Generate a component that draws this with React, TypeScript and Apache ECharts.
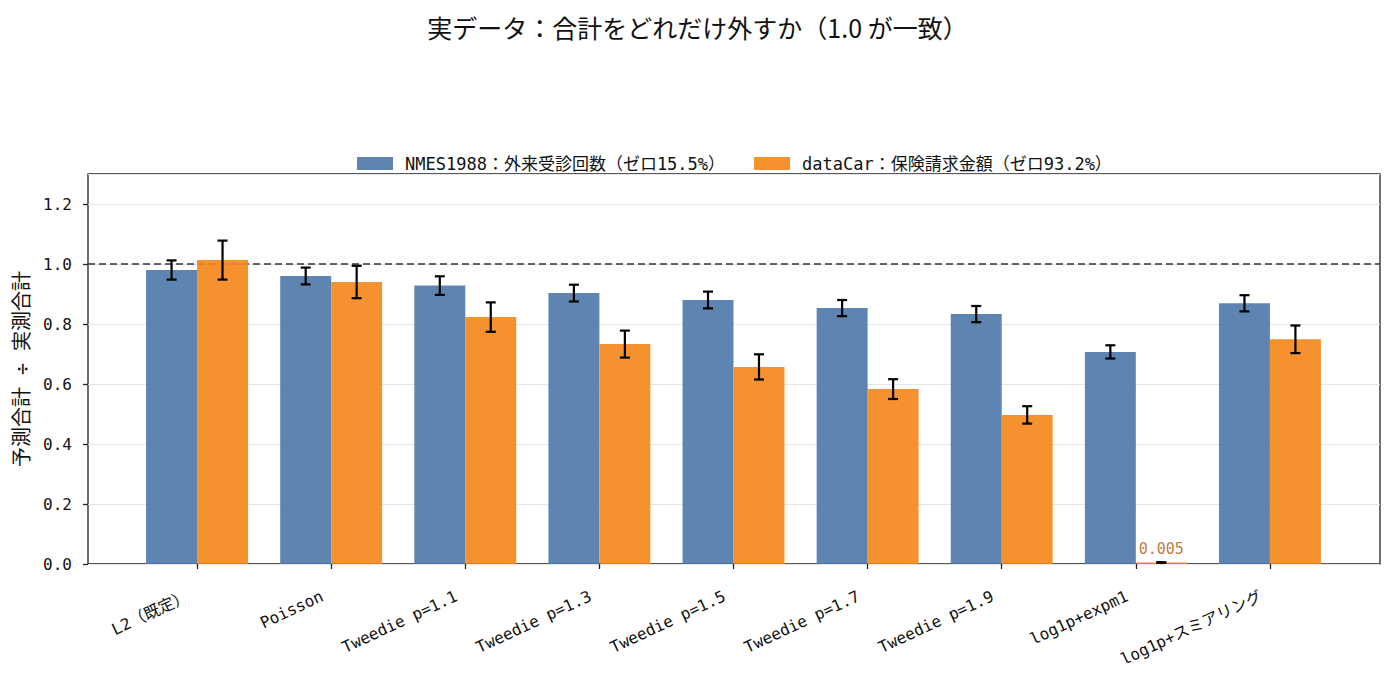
import { useEffect, useRef } from "react";
import * as echarts from "echarts";

const categories = [
  "L2（既定）",
  "Poisson",
  "Tweedie p=1.1",
  "Tweedie p=1.3",
  "Tweedie p=1.5",
  "Tweedie p=1.7",
  "Tweedie p=1.9",
  "log1p+expm1",
  "log1p+スミアリング",
];

const nmesRatio = [0.98, 0.96, 0.928, 0.903, 0.88, 0.853, 0.833, 0.707, 0.869];
const nmesErr = [0.032, 0.028, 0.031, 0.028, 0.028, 0.027, 0.027, 0.022, 0.027];
const carRatio = [1.013, 0.94, 0.823, 0.733, 0.657, 0.583, 0.497, 0.005, 0.749];
const carErr = [0.065, 0.054, 0.049, 0.045, 0.042, 0.033, 0.029, 0.001, 0.046];

const seriesNames = ["NMES1988：外来受診回数（ゼロ15.5%）", "dataCar：保険請求金額（ゼロ93.2%）"];
const yTicks = [0, 0.2, 0.4, 0.6, 0.8, 1.0, 1.2];

const BLUE = "#4c78a8";
const ORANGE = "#f58518";
const MONO = "'DejaVu Sans Mono', 'Noto Sans CJK JP', monospace";
const CJK = "'Noto Sans CJK JP', 'DejaVu Sans', sans-serif";

export default function App() {
  const ref = useRef<HTMLDivElement>(null);

  useEffect(() => {
    document.body.style.margin = "0";
    if (!ref.current) return;
    const chart = echarts.init(ref.current, undefined, { renderer: "svg" });

    const errData = [
      ...nmesRatio.map((v, i) => [i, v - nmesErr[i], v + nmesErr[i], 0]),
      ...carRatio.map((v, i) => [i, v - carErr[i], v + carErr[i], 1]),
    ];

    const option: echarts.EChartsOption = {
      animation: false,
      textStyle: { fontFamily: MONO },
      title: {
        text: "実データ：合計をどれだけ外すか（1.0 が一致）",
        left: "center",
        top: 9,
        textStyle: { fontFamily: CJK, fontSize: 25, fontWeight: "normal", color: "#111" },
      },
      legend: {
        left: 352,
        top: 150,
        itemWidth: 36,
        itemHeight: 13,
        itemGap: 29,
        icon: "rect",
        textStyle: { fontFamily: MONO, fontSize: 17, color: "#111", padding: [0, 0, 0, 7] },
        data: seriesNames,
      },
      grid: [
        { left: 130, right: 58, top: 174, bottom: 123 },
        {
          left: 88,
          right: 15,
          top: 174,
          bottom: 123,
          show: true,
          borderColor: "#222",
          borderWidth: 1.3,
          backgroundColor: "transparent",
        },
      ],
      xAxis: [
        {
          type: "category",
          gridIndex: 0,
          data: categories,
          boundaryGap: true,
          axisLine: { show: false },
          axisTick: { show: true, alignWithLabel: true, length: 5, lineStyle: { color: "#222", width: 1.3 } },
          axisLabel: {
            rotate: 25,
            fontSize: 16,
            color: "#111",
            margin: 27,
            interval: 0,
            padding: [0, 10, 0, 0],
          },
        },
        { type: "value", gridIndex: 1, min: 0, max: 1, show: false },
      ],
      yAxis: [
        { type: "value", gridIndex: 0, min: 0, max: 1.3, show: false },
        {
          type: "value",
          gridIndex: 1,
          min: 0,
          max: 1.3,
          interval: 0.2,
          name: "予測合計 ÷ 実測合計",
          nameLocation: "middle",
          nameGap: 48,
          nameTextStyle: { fontFamily: MONO, fontSize: 20, color: "#111" },
          axisLine: { show: false },
          axisTick: { show: true, length: 5, lineStyle: { color: "#222", width: 1.3 } },
          axisLabel: {
            fontSize: 16,
            color: "#111",
            margin: 16,
            showMaxLabel: false,
            formatter: (v: number) => (yTicks.some((t) => Math.abs(t - v) < 1e-9) ? v.toFixed(1) : ""),
          },
          splitLine: { show: true, lineStyle: { color: "#e6e6e6", width: 1 } },
        },
      ],
      series: [
        {
          type: "line",
          xAxisIndex: 1,
          yAxisIndex: 1,
          data: [
            [0, 1],
            [1, 1],
          ],
          symbol: "none",
          silent: true,
          lineStyle: { color: "#333", width: 1.6, type: [7, 4] },
          z: 1,
        },
        {
          name: seriesNames[0],
          type: "bar",
          xAxisIndex: 0,
          yAxisIndex: 0,
          data: nmesRatio,
          barWidth: "38%",
          barGap: "0%",
          itemStyle: { color: BLUE, opacity: 0.9 },
          z: 2,
        },
        {
          name: seriesNames[1],
          type: "bar",
          xAxisIndex: 0,
          yAxisIndex: 0,
          data: carRatio.map((v, i) =>
            i === 7
              ? {
                  value: v,
                  label: {
                    show: true,
                    position: "top",
                    distance: 6,
                    formatter: v.toFixed(3),
                    color: "#b86a2a",
                    fontSize: 15,
                    fontFamily: MONO,
                  },
                }
              : v
          ),
          barWidth: "38%",
          barGap: "0%",
          itemStyle: { color: ORANGE, opacity: 0.9 },
          z: 2,
        },
        {
          type: "custom",
          xAxisIndex: 0,
          yAxisIndex: 0,
          data: errData,
          encode: { x: 0, y: [1, 2] },
          silent: true,
          z: 5,
          renderItem: (params: any, api: any) => {
            const idx = api.value(0);
            const band = api.size([1, 0])[0];
            const off = (api.value(3) === 0 ? -0.19 : 0.19) * band;
            const lo = api.coord([idx, api.value(1)]);
            const hi = api.coord([idx, api.value(2)]);
            const x = lo[0] + off;
            const cap = 5;
            const style = { stroke: "#000", lineWidth: 2.2 };
            return {
              type: "group",
              children: [
                { type: "line", shape: { x1: x, y1: lo[1], x2: x, y2: hi[1] }, style },
                { type: "line", shape: { x1: x - cap, y1: lo[1], x2: x + cap, y2: lo[1] }, style },
                { type: "line", shape: { x1: x - cap, y1: hi[1], x2: x + cap, y2: hi[1] }, style },
              ],
            };
          },
        } as any,
      ],
    };

    chart.setOption(option);
    return () => chart.dispose();
  }, []);

  return <div ref={ref} style={{ width: 1395, height: 687 }} />;
}
